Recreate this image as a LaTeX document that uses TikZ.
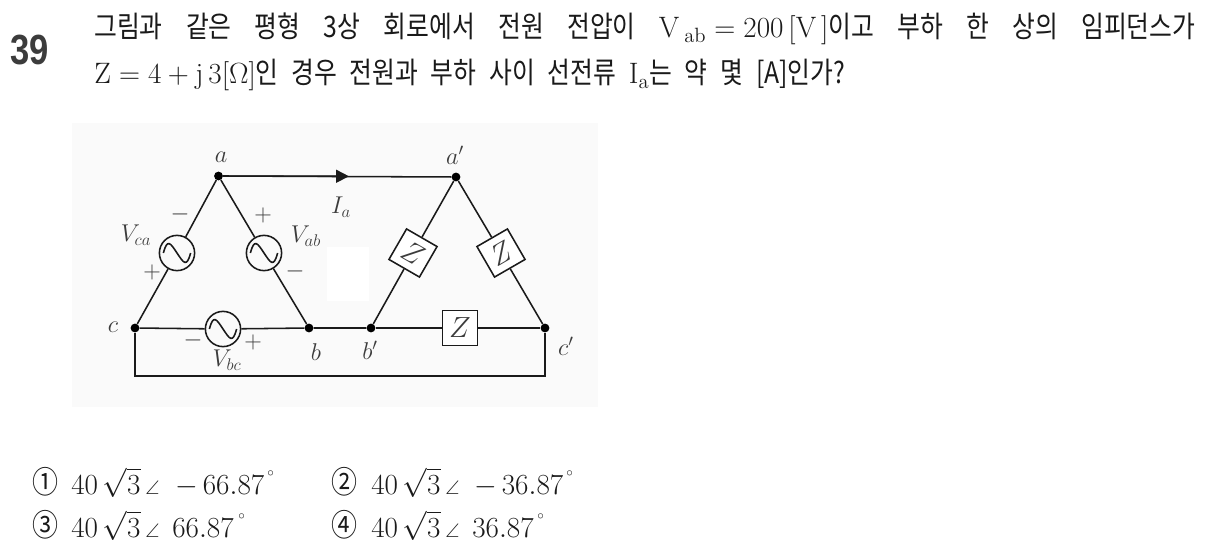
\documentclass[tikz,border=0pt]{standalone}
\usepackage{amsmath,amssymb}
\usepackage{fontspec}
\usepackage{xcolor}
\usetikzlibrary{arrows.meta,positioning}
\newfontfamily\krfont[FakeStretch=.84]{Noto Sans CJK KR}
\newfontfamily\numfont[FakeStretch=.82]{Liberation Sans}
\definecolor{ink}{HTML}{1A1A1A}
\definecolor{muted}{HTML}{3C3C3C}
\definecolor{paper}{HTML}{FAFAFA}
\tikzset{
  >={Triangle[length=3.2mm,width=3.2mm]},
  wire/.style={line width=1.1pt,color=ink},
  junction/.style={circle,fill=black,minimum size=2.2mm,inner sep=0pt},
  source/.style={circle,draw=ink,line width=1.1pt,fill=paper,minimum size=8.8mm,inner sep=0pt,
    path picture={\draw[wire] ([xshift=-3.4mm]path picture bounding box.center)
      .. controls +(1mm,3.8mm) and +(-1.6mm,2.4mm) .. (path picture bounding box.center)
      .. controls +(1.6mm,-2.4mm) and +(-1mm,-3.8mm) .. ([xshift=3.4mm]path picture bounding box.center);}},
  load/.style={draw=ink,line width=1.1pt,fill=white,minimum size=8.8mm,inner sep=0pt,font=\fontsize{20}{20}\selectfont,text=muted},
  lab/.style={text=muted,font=\fontsize{18}{18}\selectfont,inner sep=0pt},
  sign/.style={text=muted,font=\fontsize{17}{17}\selectfont,inner sep=0pt},
  line/.style={anchor=base west,inner sep=0pt,text=ink,font=\fontsize{21}{24}\selectfont\krfont},
  choice/.style={anchor=base west,inner sep=0pt,text=ink,font=\fontsize{20}{24}\selectfont},
  degmark/.style={choice,font=\fontsize{9}{9}\selectfont},
}
\newcommand{\ang}{\,{\scriptstyle\angle}\,}
\begin{document}
\begin{tikzpicture}[x=.025cm,y=-.025cm]
  \useasboundingbox[fill=white] (0,0) rectangle (1210,551);
  \node[anchor=base west,inner sep=0pt,text=muted,font=\fontsize{30}{30}\selectfont\numfont\bfseries] (num) at (10,65) {39};
  \node[line] (lineone) at (94,38) {\makebox[27.52cm][s]{그림과 같은 평형 3상 회로에서 전원 전압이 \mbox{$\mathrm{V}\,_{\mathrm{ab}}=200\,[\mathrm{V}\,]$}이고 부하 한 상의 임피던스가}};
  \node[line] (linetwo) at (94,84) {\makebox[18.77cm][s]{\mbox{$\mathrm{Z}=4+\mathrm{j}\,3[\Omega]$}인 경우 전원과 부하 사이 선전류 \mbox{$\mathrm{I}_{\mathrm{a}}$}는 약 몇 [A]인가?}};

  \fill[paper] (72,123) rectangle (598,407);
  \fill[white] (327,247) rectangle (369,301);

  \node[junction] (a) at (218.5,176) {};
  \node[junction] (c) at (135,328) {};
  \node[junction] (b) at (309,328) {};
  \node[junction] (ap) at (456,177) {};
  \node[junction] (bp) at (371,328) {};
  \node[junction] (cp) at (545,328) {};
  \node[source] (vca) at (177,253) {};
  \node[source] (vab) at (264,253) {};
  \node[source] (vbc) at (223,329) {};
  \node[load,rotate=-30] (zab) at (413,253) {$Z$};
  \node[load,rotate=30] (zac) at (501,253) {$Z$};
  \node[load] (zbc) at (460,328) {$Z$};
  \coordinate (tip) at (349,176.3);
  \coordinate (cdown) at (135,376);
  \coordinate (cpdown) at (545,376);

  \draw[wire] (a) -- (ap);
  \draw[wire,->] (a) -- (tip);
  \draw[wire] (a) -- (vca) -- (c);
  \draw[wire] (a) -- (vab) -- (b);
  \draw[wire] (c) -- (vbc) -- (b) -- (bp);
  \draw[wire] (ap) -- (zab) -- (bp);
  \draw[wire] (ap) -- (zac) -- (cp);
  \draw[wire] (bp) -- (zbc) -- (cp);
  \draw[wire] (c) -- (cdown) -- (cpdown) -- (cp);

  \node[lab] (la) at (221,157) {$a$};
  \node[lab] (lap) at (455,155) {$a'$};
  \node[lab] (lb) at (316,352) {$b$};
  \node[lab] (lbp) at (370,350) {$b'$};
  \node[lab] (lc) at (113,327) {$c$};
  \node[lab] (lcp) at (566,346) {$c'$};
  \node[lab] (lvca) at (136,235) {$V_{ca}$};
  \node[lab] (lvab) at (306,236) {$V_{ab}$};
  \node[lab] (lvbc) at (227,360) {$V_{bc}$};
  \node[lab] (lia) at (341,207) {$I_{a}$};
  \foreach \name/\x/\y/\txt in {sa/180/214/-,sb/152/272/+,sc/263/215/+,sd/295/271/-,se/193/340/-,sf/253/342/+}
    {\node[sign] (\name) at (\x,\y) {$\txt$};}

  \node[choice,font=\fontsize{22}{24}\selectfont] (ca) at (32,493) {{\krfont ①}};
  \node[choice,font=\fontsize{22}{24}\selectfont] (cb) at (331,493) {{\krfont ②}};
  \node[choice,font=\fontsize{22}{24}\selectfont] (cc) at (32,536) {{\krfont ③}};
  \node[choice,font=\fontsize{22}{24}\selectfont] (cd) at (331,536) {{\krfont ④}};
  \node[choice] (ta) at (71,494) {$40\,\sqrt{3}\ang$};
  \node[choice] (tb) at (371,494) {$40\,\sqrt{3}\ang$};
  \node[choice] (tc) at (71,537) {$40\,\sqrt{3}\ang$};
  \node[choice] (td) at (371,537) {$40\,\sqrt{3}\ang$};
  \node[choice] (va) at (175,494) {$-\,66.87$};
  \node[choice] (vb) at (474,494) {$-\,36.87$};
  \node[choice] (vc) at (172,537) {$66.87$};
  \node[choice] (vd) at (472,537) {$36.87$};
  \node[degmark] (da) at (267,476) {$\circ$};
  \node[degmark] (db) at (566,476) {$\circ$};
  \node[degmark] (dc) at (238,519) {$\circ$};
  \node[degmark] (dd) at (537,519) {$\circ$};
\end{tikzpicture}
\end{document}
